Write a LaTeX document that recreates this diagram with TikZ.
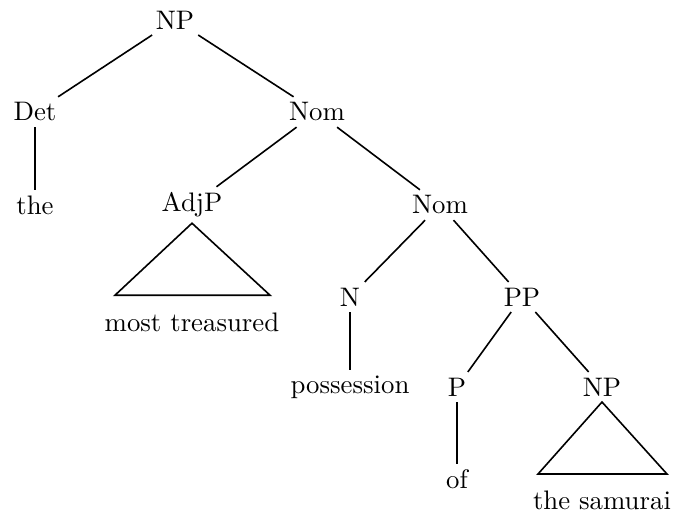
\documentclass[tikz,border=0pt]{standalone}
\usepackage{amsmath}
\usepackage{tikz}
\usetikzlibrary{positioning}

\begin{document}
\begin{tikzpicture}[
    x=0.01312cm, y=-0.01312cm,
    cat/.style={inner sep=2pt},
    edge/.style={semithick}
]
\useasboundingbox (0,0) rectangle (673,519);

\node (np) [cat] at (175,20) {NP};
\node (det) [cat] at (35,112) {Det};
\node (the) [cat] at (35,205) {the};
\node (nom) [cat] at (317,112) {Nom};
\node (adjp) [cat] at (192,205) {AdjP};
\node (mt) [cat] at (192,322) {most treasured};
\node (nom2) [cat] at (440,205) {Nom};
\node (n) [cat] at (350,297) {N};
\node (poss) [cat] at (350,387) {possession};
\node (pp) [cat] at (522,297) {PP};
\node (p) [cat] at (457,387) {P};
\node (of) [cat] at (457,479) {of};
\node (np2) [cat] at (602,387) {NP};
\node (sam) [cat] at (602,500) {the samurai};

\draw [edge] (np) -- (det);
\draw [edge] (np) -- (nom);
\draw [edge] (det) -- (the);
\draw [edge] (nom) -- (adjp);
\draw [edge] (nom) -- (nom2);
\draw [edge] (nom2) -- (n);
\draw [edge] (nom2) -- (pp);
\draw [edge] (n) -- (poss);
\draw [edge] (pp) -- (p);
\draw [edge] (pp) -- (np2);
\draw [edge] (p) -- (of);

% triangles for unanalysed phrases
\draw [edge] (adjp.south) -- ++(-77,72) -- ++(155,0) -- cycle;
\draw [edge] (np2.south) -- ++(-64,72) -- ++(129,0) -- cycle;

\end{tikzpicture}
\end{document}
